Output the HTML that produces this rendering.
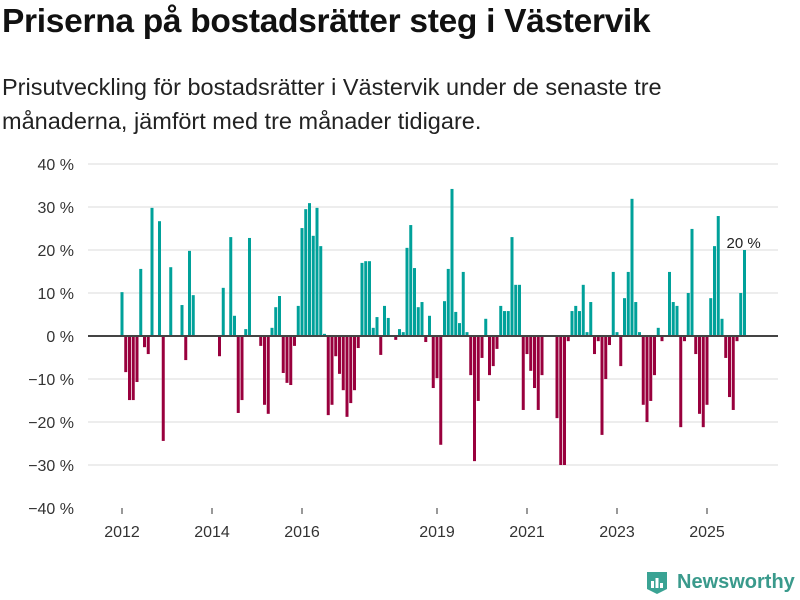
<!DOCTYPE html>
<html><head><meta charset="utf-8"><style>
body{margin:0;width:800px;height:600px;background:#fff;font-family:"Liberation Sans","DejaVu Sans",sans-serif;overflow:hidden;position:relative}
#title{position:absolute;left:2px;top:3px;font-size:33.5px;font-weight:bold;color:#111;margin:0;letter-spacing:-0.3px}
#sub{position:absolute;left:2px;top:70px;font-size:23.5px;line-height:34px;color:#222;width:680px}
svg{position:absolute;left:0;top:0}
</style></head><body>
<h1 id="title">Priserna på bostadsrätter steg i Västervik</h1>
<div id="sub">Prisutveckling för bostadsrätter i Västervik under de senaste tre månaderna, jämfört med tre månader tidigare.</div>
<svg id="chart" width="800" height="600"></svg>
<script>
const values=[10.2,-8.4,-14.9,-14.9,-10.7,15.6,-2.6,-4.2,29.8,null,26.7,-24.4,null,16,null,null,7.2,-5.6,19.8,9.5,
null,null,null,null,null,null,-4.7,11.2,null,23,4.7,-17.9,-14.9,1.6,22.8,null,null,-2.3,-16,-18.1,
1.9,6.7,9.3,-8.6,-10.9,-11.4,-2.3,7.0,25.1,29.5,30.9,23.3,29.8,20.9,0.5,-18.4,-16,-4.7,-8.8,-12.6,
-18.8,-15.6,-12.6,-2.8,17,17.4,17.4,1.9,4.4,-4.4,7,4.2,null,-0.9,1.6,0.9,20.5,25.8,15.8,6.7,
7.9,-1.4,4.7,-12.1,-9.8,-25.3,8.1,15.6,34.2,5.6,3.0,14.9,0.9,-9.1,-29.1,-15.1,-5.1,4.0,-9.1,-7.0,
-3.0,7.0,5.8,5.8,23.0,11.9,11.9,-17.2,-4.2,-8.1,-12.1,-17.2,-9.1,null,null,null,-19.1,-30,-30,-1.2,
5.8,7.0,5.8,11.9,0.9,7.9,-4.2,-1.2,-23,-10,-2.1,14.9,0.9,-7.0,8.8,14.9,31.9,7.9,0.9,-16,
-20,-15.1,-9.1,1.9,-1.2,null,14.9,7.9,7.0,-21.2,-1.2,10,24.9,-4.2,-18.1,-21.2,-16,8.8,20.9,27.9,
4.0,-5.1,-14.2,-17.2,-1.2,10,20];
const yTicks=[40,30,20,10,0,-10,-20,-30,-40];
const xTickYears=[2012,2014,2016,2019,2021,2023,2025];
const startYear=2012;
const lastLabel="20 %";

const NS="http://www.w3.org/2000/svg";
const svg=document.getElementById('chart');
const y=v=>336-v*4.3;
const x=i=>122+i*3.75;
function mk(t,a){const e=document.createElementNS(NS,t);for(const k in a)e.setAttribute(k,a[k]);svg.appendChild(e);return e;}
yTicks.forEach(t=>{
  if(t!==0&&t!==-40){const g=mk('line',{x1:88,x2:778,y1:y(t),y2:y(t),stroke:'#e2e2e2','stroke-width':1.3});
  
  }
  const l=mk('text',{x:74,y:y(t)+6,'text-anchor':'end','font-size':16,fill:'#333'});
  l.textContent=(t<0?'\u2212'+(-t):t)+' %';
  
  
});
values.forEach((v,i)=>{
  if(v===null)return;
  const r=mk('rect',{x:x(i)-1.5,width:3,y:v>=0?y(v):y(0),height:Math.abs(v)*4.3,fill:v>=0?'#00a19a':'#99003d'});
  
  
});
const z=mk('line',{x1:88,x2:778,y1:y(0),y2:y(0),stroke:'#444','stroke-width':2});


xTickYears.forEach(yr=>{
  const xi=x((yr-startYear)*12);
  const tk=mk('line',{x1:xi,x2:xi,y1:508,y2:514,stroke:'#333','stroke-width':1});
  
  
  const l=mk('text',{x:xi,y:537,'text-anchor':'middle','font-size':16,fill:'#333'});
  l.textContent=yr;
  
  
});
const last=values.length-1;
const ll=mk('text',{x:x(last)-18,y:y(values[last])-2,'font-size':15,fill:'#222'});
ll.textContent=lastLabel;


</script>
<div style="position:absolute;left:645px;top:569px;display:flex;align-items:center">
<svg width="24" height="26" style="position:static"><path d="M2 3h20v17l-10 5-10-5z" fill="#3aa394"/><rect x="6" y="12" width="3" height="7" fill="#fff"/><rect x="10.5" y="9" width="3" height="10" fill="#fff"/><rect x="15" y="14" width="3" height="5" fill="#fff"/></svg>
<span style="margin-left:8px;font-size:20px;font-weight:bold;color:#3a9a8c">Newsworthy</span></div>
</body></html>
